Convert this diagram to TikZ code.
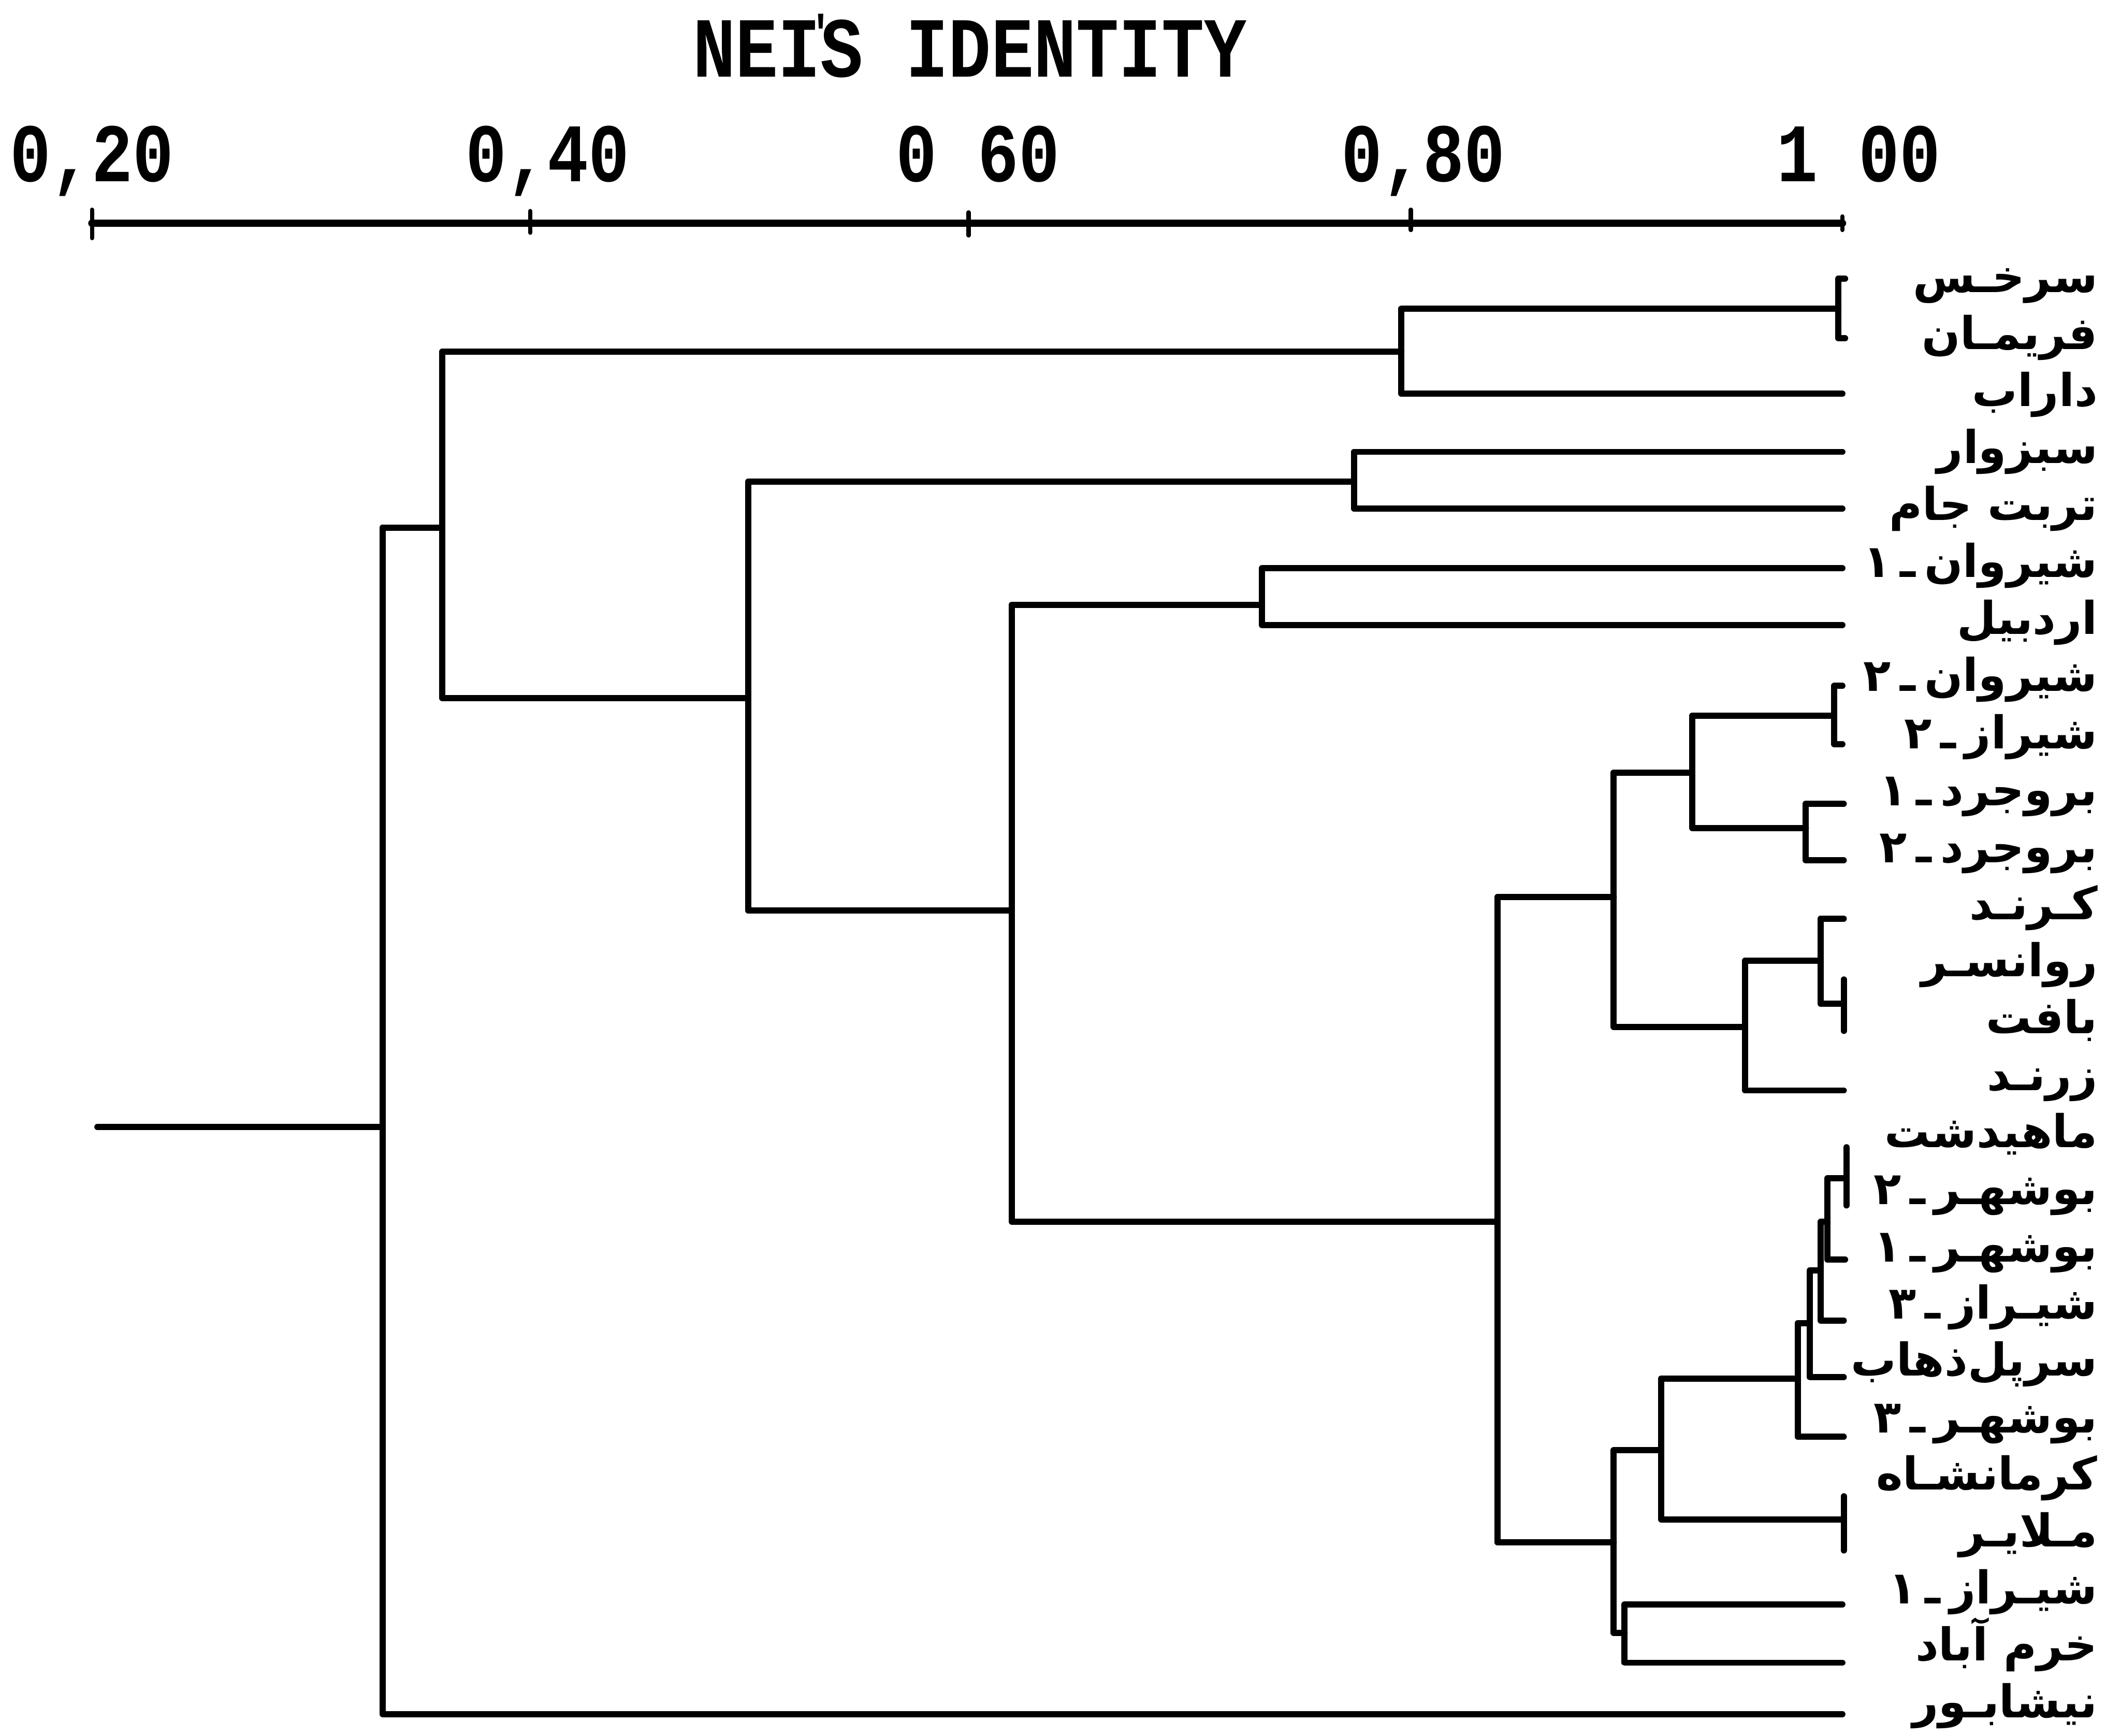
\documentclass[tikz,border=0pt]{standalone}
\usepackage{fontspec}
\TeXXeTstate=1
\newfontfamily\fa[Script=Arabic]{DejaVu Sans}
\newfontfamily\monob{Liberation Mono}
\newcommand\dsh{\hspace{0.2em}ـ\hspace{0.2em}}
\begin{document}
\begin{tikzpicture}[x=0.02cm,y=-0.02cm,line cap=round,line join=round,
  br/.style={line width=2.6pt},
  axisline/.style={line width=3.2pt},
  tk/.style={line width=1.8pt},
  lab/.style={anchor=base east,inner sep=0pt,font=\fa\bfseries\fontsize{19}{20}\selectfont},
  ticklab/.style={anchor=base,inner sep=0pt,font=\monob\bfseries\fontsize{35}{35}\selectfont},
  ttl/.style={anchor=base,inner sep=0pt,font=\monob\bfseries\fontsize{36}{36}\selectfont}]
\useasboundingbox (0,0) rectangle (1568,1283);
% title and axis
\node[ttl] (title) at (717,57) {\scalebox{0.83}[1]{NEI\makebox[0pt]{\raisebox{12pt}{\fontsize{20}{20}\selectfont '}}S IDENTITY}};
\node[ticklab] (t20) at (68,134) {\scalebox{0.82}[1]{0,20}};
\node[ticklab] (t40) at (405,134) {\scalebox{0.82}[1]{0,40}};
\node[ticklab] (t60) at (723,134) {\scalebox{0.82}[1]{0 60}};
\node[ticklab] (t80) at (1052,134) {\scalebox{0.82}[1]{0,80}};
\node[ticklab] (t100) at (1374,134) {\scalebox{0.82}[1]{1 00}};
\draw[axisline] (68,165) -- (1362,165);
\draw[tk] (68,155) -- (68,176);
\draw[tk] (392,156) -- (392,172);
\draw[tk] (716,157) -- (716,174);
\draw[tk] (1043,155) -- (1043,170);
\draw[tk] (1362,160) -- (1362,170);
% labels
\foreach \t [count=\i] in {%
  سرخـس,فریمـان,داراب,سبزوار,تربت جام,شیروان\dsh ۱,اردبیل,شیروان\dsh ۲,شیراز\dsh ۲,بروجرد\dsh ۱,بروجرد\dsh ۲,کـرنـد,روانسـر,بافت,زرنـد,ماهیدشت,بوشهـر\dsh ۲,بوشهـر\dsh ۱,شیـراز\dsh ۳,سرپل‌ذهاب,بوشهـر\dsh ۳,کرمانشـاه,مـلایـر,شیـراز\dsh ۱,خرم آباد,نیشابـور}
  \node[lab] (l\i) at (1551,{216+42.15*(\i-1)}) {\beginR\t\endR};
% dendrogram
% top group
\draw[br] (1362,291) -| (1036,228) -- (1359,228);
\draw[br] (1364,206) -- (1359,206) -- (1359,250) -- (1364,250);
\draw[br] (1036,260) -- (327,260);
\draw[br] (553,516) -| (327,260);
\draw[br] (327,390) -- (283,390);
\draw[br] (72,833) -- (283,833);
\draw[br] (1362,1267) -| (283,390);
% sabzevar / torbat
\draw[br] (1362,334) -| (1001,376) -- (1362,376);
\draw[br] (1001,356) -| (553,673) -- (748,673);
% shirvan-1 / ardabil
\draw[br] (1362,420) -| (933,462) -- (1362,462);
\draw[br] (933,447) -| (748,903) -- (1107,903);
% big lower cluster
\draw[br] (1193,663) -| (1107,1140) -- (1193,1140);
\draw[br] (1251,571) -| (1193,759) -- (1289,759);
\draw[br] (1356,529) -| (1251,612) -- (1335,612);
\draw[br] (1362,507) -- (1356,507) -- (1356,550) -- (1362,550);
\draw[br] (1363,594) -| (1335,636) -- (1363,636);
\draw[br] (1346,710) -| (1290,806) -- (1363,806);
\draw[br] (1363,679) -| (1346,742) -- (1362,742);
\draw[br] (1363,724) -- (1363,762);
% lower part
\draw[br] (1228,1072) -| (1193,1207) -- (1201,1207);
\draw[br] (1362,1186) -| (1201,1229) -- (1362,1229);
\draw[br] (1329,1019) -| (1228,1123) -- (1363,1123);
\draw[br] (1363,1106) -- (1363,1146);
\draw[br] (1338,978) -| (1329,1062) -- (1363,1062);
\draw[br] (1346,939) -| (1338,1018) -- (1363,1018);
\draw[br] (1351,903) -| (1346,976) -- (1363,976);
\draw[br] (1364,871) -| (1351,931) -- (1364,931);
\draw[br] (1365,848) -- (1365,891);
\end{tikzpicture}
\end{document}
